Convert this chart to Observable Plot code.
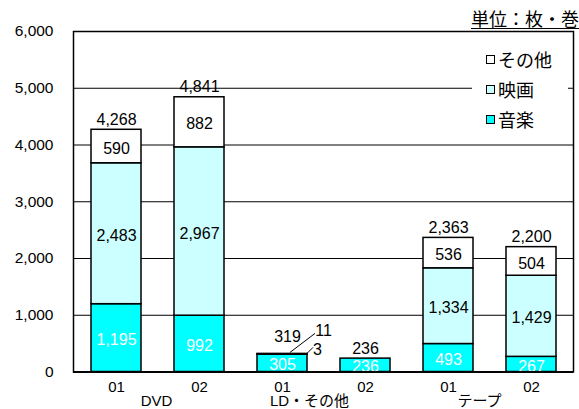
<!DOCTYPE html>
<html><head><meta charset="utf-8">
<script src="https://cdn.jsdelivr.net/npm/d3@7"></script>
<script src="https://cdn.jsdelivr.net/npm/@observablehq/plot@0.6"></script>
<style>
body{margin:0;background:#fff;}
#wrap{position:relative;width:579px;height:409px;font-family:"Liberation Sans","Noto Sans CJK JP",sans-serif;}
#unit{position:absolute;right:0px;top:8px;font-family:"Noto Sans CJK JP",sans-serif;font-size:18px;line-height:20px;text-decoration:underline;text-underline-offset:2px;color:#000;}
#legend{position:absolute;left:472px;top:42px;width:96px;height:92px;background:#fff;font-family:"Noto Sans CJK JP",sans-serif;font-size:18px;}
.li{position:absolute;left:14px;height:20px;line-height:20px;display:flex;align-items:center;}
.sw{width:7px;height:7px;border:1.5px solid #000;margin-right:3px;}
</style></head><body><div id="wrap"></div>
<script>
const groups = ["DVD", "LD・その他", "テープ"];
const years = ["01", "02"];
const types = ["音楽", "映画", "その他"];
const music = [1195, 992, 305, 236, 493, 267];
const movie = [2483, 2967, 3, 0, 1334, 1429];
const other = [590, 882, 11, 0, 536, 504];
const totals = [4268, 4841, 319, 236, 2363, 2200];
const yTicks = [0, 1000, 2000, 3000, 4000, 5000, 6000];
const unitLabel = "単位：枚・巻";

const colors = ["#00FFFF", "#CCFFFF", "#FFFFFF"];
const keys = groups.flatMap(g => years.map(y => g + "|" + y));
const series = [music, movie, other];
const rows = [];
keys.forEach((k, i) => types.forEach((t, j) => rows.push({key: k, type: t, value: series[j][i], idx: i})));
const totalRows = keys.map((k, i) => ({key: k, total: totals[i], idx: i}));
const fmt = d3.format(",");
const ldKey = groups[1] + "|" + years[0];

// leader lines for the tiny LD segments
function leaders(index, scales) {
  const x = scales.x, y = scales.y;
  const cx = x(ldKey) + x.bandwidth() / 2;
  const top = y(totals[2]);
  const g = d3.create("svg:g").attr("stroke", "black").attr("stroke-width", 1);
  g.append("line").attr("x1", cx + 8).attr("y1", top - 1).attr("x2", cx + 33).attr("y2", top - 20);
  g.append("line").attr("x1", cx + 25).attr("y1", top).attr("x2", cx + 31).attr("y2", top - 6);
  return g.node();
}

const groupDx = {"DVD": 40, "LD・その他": 27, "テープ": 31};

const chart = Plot.plot({
  width: 579, height: 409,
  marginLeft: 73, marginRight: 6, marginTop: 31, marginBottom: 37.5,
  style: {fontFamily: "Liberation Sans, Noto Sans CJK JP, sans-serif", fontSize: "15px", color: "#000", background: "#fff"},
  x: {domain: keys, paddingInner: 0.4, paddingOuter: 0.2, axis: null},
  y: {domain: [0, 6000], axis: null},
  color: {domain: types, range: colors},
  marks: [
    Plot.gridY(yTicks, {stroke: "black", strokeOpacity: 1, strokeWidth: 1}),
    Plot.axisY(yTicks, {tickSize: 0, tickPadding: 20, tickFormat: fmt, fontSize: 15.5, label: null}),
    Plot.text(keys, {x: d => d, text: d => d.split("|")[1], frameAnchor: "bottom", lineAnchor: "middle", dy: 15.5, fontSize: 15}),
    ...groups.map(g => Plot.text([g], {x: d => d + "|" + years[0], text: d => d, frameAnchor: "bottom", lineAnchor: "middle", dy: 29.5, dx: groupDx[g], fontSize: 15})),
    Plot.barY(rows, {x: "key", y: "value", fill: "type", order: types, stroke: "black", strokeWidth: 1.5}),
    Plot.text(rows.filter(d => d.value >= 50), Plot.stackY({x: "key", y: "value", z: "type", order: types, text: d => fmt(d.value), fill: d => d.type === types[0] ? "white" : "black", dy: 2, fontSize: 16})),
    Plot.text(totalRows.filter(d => d.key !== ldKey), {x: "key", y: "total", text: d => fmt(d.total), dy: -10, fontSize: 16}),
    Plot.text(totalRows.filter(d => d.key === ldKey), {x: "key", y: "total", text: d => fmt(d.total), dx: 5, dy: -17, fontSize: 16}),
    Plot.text(rows.filter(d => d.key === ldKey && d.type === types[2]), {x: "key", y: totals[2], text: d => fmt(d.value), dx: 41, dy: -23, fontSize: 16}),
    Plot.text(rows.filter(d => d.key === ldKey && d.type === types[1]), {x: "key", y: totals[2], text: d => fmt(d.value), dx: 35, dy: -4, fontSize: 16}),
    leaders,
    Plot.frame({stroke: "black", strokeWidth: 1.5}),
    Plot.ruleY([0], {stroke: "black", strokeWidth: 2})
  ]
});

const wrap = document.getElementById("wrap");
wrap.appendChild(chart);
const unit = document.createElement("div");
unit.id = "unit"; unit.textContent = unitLabel;
wrap.appendChild(unit);
const legend = document.createElement("div");
legend.id = "legend";
[2, 1, 0].forEach((j, n) => {
  const it = document.createElement("div");
  it.className = "li";
  it.style.top = (7 + n * 30) + "px";
  const sw = document.createElement("span");
  sw.className = "sw"; sw.style.background = colors[j];
  const tx = document.createElement("span");
  tx.textContent = types[j];
  it.appendChild(sw); it.appendChild(tx);
  legend.appendChild(it);
});
wrap.appendChild(legend);
</script></body></html>
